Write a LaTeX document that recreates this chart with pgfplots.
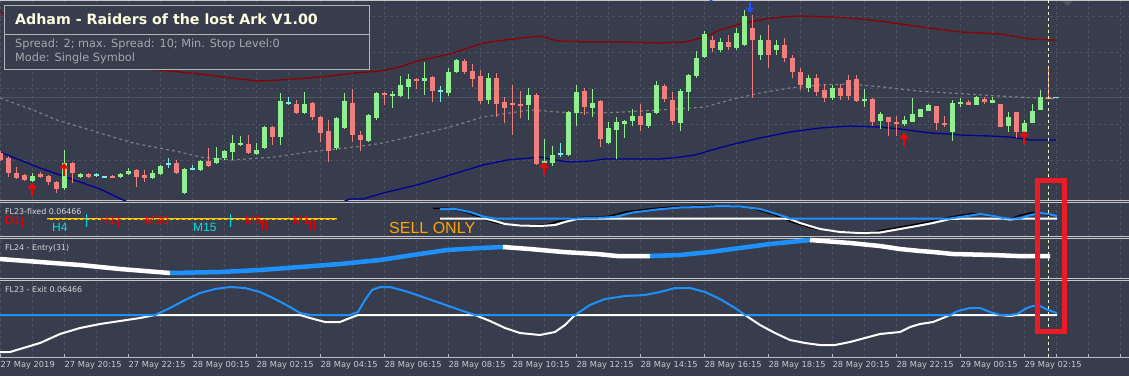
\documentclass[border=0pt]{standalone}
\usepackage{fontspec}
\setmainfont{DejaVu Sans}
\newfontfamily\arialf{Liberation Sans}
\usepackage{pgfplots}
\usepackage{pgfplotstable}
\pgfplotsset{compat=1.18}
\usetikzlibrary{arrows.meta}

\definecolor{bg}{RGB}{56,61,77}
\definecolor{gridc}{RGB}{76,82,99}
\definecolor{sepc}{RGB}{200,200,200}
\definecolor{axisc}{RGB}{185,188,195}
\definecolor{labelc}{RGB}{200,203,210}
\definecolor{cgreen}{RGB}{144,238,144}
\definecolor{cred}{RGB}{240,128,128}
\definecolor{ccyan}{RGB}{127,235,225}
\definecolor{bandred}{RGB}{139,0,0}
\definecolor{bandblue}{RGB}{0,0,150}
\definecolor{midgray}{RGB}{125,125,125}
\definecolor{bidc}{RGB}{78,83,98}
\definecolor{blu}{RGB}{30,144,255}
\definecolor{titlec}{RGB}{255,255,225}
\definecolor{smallc}{RGB}{165,168,175}
\definecolor{boxc}{RGB}{180,180,180}
\definecolor{plabel}{RGB}{215,215,220}
\definecolor{tfred}{RGB}{235,0,0}
\definecolor{tfcyan}{RGB}{0,225,225}
\definecolor{gold}{RGB}{255,204,0}
\definecolor{sellc}{RGB}{255,165,0}
\definecolor{rectred}{RGB}{237,28,36}
\definecolor{curc}{RGB}{255,255,200}
\definecolor{arrblue}{RGB}{30,80,255}

% candles: pixel rows (y grows downward); green: o=bottom, c=top
\pgfplotstableread{
i o h l c
0 153 151 161 160
1 158 156 177 173
2 173 167 179 178
3 175 174 181 180
4 181 173 182 176
5 174 172 178 177
6 176 175 185 182
7 182 181 193 189
8 188 150 190 163
9 163 162 183 173
10 177 173 178 174
11 174 173 178 177
12 175 173 177 175
13 177 176 178 177
14 176 175 178 177.5
15 177 173 178 173.5
16 174 168 175 171
17 170 169 187 177
18 175 170 182 178
19 178 170 179 173
20 174 165 175 165.5
21 164 158 168 164
22 163 160 174 173
23 193 168 194 169
24 169 165 170 169
25 170 160 171 161
26 161 148 167 166
27 163 147 164 158
28 158 150 160 151
29 152 135 160 143
30 145 136 146 143
31 144 135 154 153
32 154 143 155 150
33 148 126 149 127
34 127 126 145 137
35 137 93 145 101
36 103 97 105 103
37 104 100 114 113
38 113 92 114 104
39 103 102 120 117
40 117 116 142 133
41 131 120 162 151
42 148 117 150 118
43 128 93 129 101
44 103 89 142 135
45 135 131 151 140
46 141 114 142 115
47 118 92 120 93
48 93 92 105 95
49 96 91 108 94
50 96 76 97 85
51 87 74 99 79
52 79 78 89 81
53 81 62 95 78
54 77 76 102 91
55 91 86 102 91
56 93 68 96 72
57 72 59 73 60
58 61 59 74 72
59 71 64 87 79
60 76 70 104 101
61 100 73 104 78
62 78 73 117 104
63 102 97 123 108
64 103 85 135 105
65 104 91 118 106
66 105 88 120 95
67 95 93 165 164
68 163 139 165 161
69 163 146 166 155
70 154 143 157 154
71 155 111 156 112
72 113 85 126 92
73 91 88 115 107
74 108 89 117 103
75 101 100 147 139
76 143 122 144 128
77 130 117 159 122
78 124 120 138 121
79 121 109 126 116
80 116 104 131 125
81 126 113 128 113
82 113 81 114 85
83 86 84 102 99
84 100 92 125 121
85 123 89 131 91
86 92 74 111 75
87 76 51 78 58
88 57 31 58 34
89 40 36 52 48
90 50 38 52 42
91 42 35 50 47
92 48 28 50 33
93 45 10 46 16
94 28 15 98 40
95 55 35 60 40
96 40 25 68 55
97 50 40 55 45
98 45 38 62 58
99 58 55 78 72
100 72 68 90 85
101 88 75 92 78
102 78 74 96 92
103 90 84 102 98
104 98 85 100 88
105 88 84 100 96
106 80 75 100 96
107 79 75 102 101
108 101 89 107 99
109 99 98 126 122
110 121 112 129 114
111 117 117 136 122
112 122 116 136 124
113 124 116 126 120
114 122 98 122 114
115 117 109 117 109
116 111 104 111 105
117 106 106 130 123
118 123 116 127 125
119 132 100 141 103
120 104 98 107 102
121 102 100 105 105
122 105 96 105 97
123 99 97 104 102
124 103 97 103 100
125 104 104 127 127
126 126 112 132 117
127 112 112 138 132
128 132 120 133 123
129 123 104 123 111
130 110 90 110 97
131 97 67 99 99
}\candles

\pgfplotstableread{
x y
0 12
20 22
40 35
60 48
80 57
100 63
120 67
140 69
160 70
180 72
200 74
230 78
258 81
280 80
308 78
330 76
355 73
380 71
400 67
417 61
450 54
483 43
505 40
530 37
540 36
558 41
592 42
625 42
658 43
685 42
705 37
720 30
740 24
760 20
780 17
800 16
830 17
850 18
880 21
900 24
930 28
960 32
1000 34
1030 39
1056 40
}\upband

\pgfplotstableread{
x y
0 152
20 160
40 168
60 175
80 182
100 189
123 200
140 207
200 215
300 210
340 203
350 199
363 199
383 193
417 185
450 175
483 165
507 160
530 158
540 157
555 160
570 162
590 161
605 159
640 159
660 159
680 157
695 155
705 152
730 145
760 138
790 132
820 128
850 126
880 127
900 129
930 133
950 134
960 135
990 136
1010 137
1030 140
1056 140
}\lowband

\pgfplotstableread{
x y
0 98
33 110
57 120
67 123
100 133
133 143
180 152
200 157
232 160
275 157
308 152
355 147
383 143
417 135
450 127
483 117
530 110
558 112
592 113
625 112
658 110
692 108
705 107
730 100
760 93
790 88
820 85
850 84
883 87
917 91
950 93
983 95
1017 97
1057 99
}\midband

\pgfplotstableread{
x y
440 209
455 209
470 212
485 217
495 221
505 224
520 225.5
540 226
555 225
565 222
577 219
590 218
605 217.5
615 217
633 212.5
657 209.5
680 207.5
700 207
720 206
740 206.5
760 209
780 215
790 219
800 223
820 229
840 232
860 233
880 232.5
900 229
917 226
933 223
950 219
967 216
980 214
993 216
1003 218
1010 219.5
1020 218.5
1027 216
1040 213
1048 214
1057 216
}\ptwo

\pgfplotstableread{
x y
0 259
40 262
80 265
120 269
170 273
}\pthreeA
\pgfplotstableread{
x y
170 273
220 272
260 270
300 267
340 264
380 260
413 255
447 250
480 248
503 247
}\pthreeB
\pgfplotstableread{
x y
503 247
530 249
563 252
597 254
617 256
650 256
}\pthreeC
\pgfplotstableread{
x y
650 256
680 255
710 252
740 248
770 244
800 241
810 240
}\pthreeD
\pgfplotstableread{
x y
810 240
850 243
880 246
900 249
920 251
933 252
953 254
993 255
1017 256
1050 256
}\pthreeE

\pgfplotstableread{
x y
0 352
10 352
20 349
40 343
60 334
80 328
100 324
120 321
140 318
155 315
170 308
185 300
200 293
215 289
230 287
245 288
260 292
275 299
290 307
300 313
310 318
325 322
340 322
350 318
358 312
365 300
372 290
380 287
390 287
405 291
420 296
440 303
460 310
475 315
490 321
505 328
520 333
540 335
555 332
565 325
575 315
590 305
605 299
625 296
645 295
660 292
675 288
690 288
705 292
720 299
735 308
745 315
760 325
775 333
790 340
805 343
820 345
835 345
850 342
865 338
880 334
900 332
910 327
920 324
933 322
943 318
950 315
958 311
970 308
980 308
990 312
1000 315
1010 316
1017 314
1027 308
1033 306
1040 306
1048 310
1057 313
}\pfour

\begin{document}
\begin{tikzpicture}
\fill[bg] (0pt,0pt) rectangle (1129pt,376pt);

% ---------- background axis: grid, separators, time axis ----------
\begin{axis}[
  at={(0pt,376pt)}, anchor=north west, scale only axis,
  width=1129pt, height=357pt,
  xmin=0, xmax=1129, ymin=0, ymax=357,
  axis x line*=bottom, axis y line*=left,
  x axis line style={draw=axisc, line width=1pt, -},
  y axis line style={draw=none},
  xtick={0,64,...,1024},
  xticklabels={27 May 2019,27 May 20:15,27 May 22:15,28 May 00:15,28 May 02:15,28 May 04:15,28 May 06:15,28 May 08:15,28 May 10:15,28 May 12:15,28 May 14:15,28 May 16:15,28 May 18:15,28 May 20:15,28 May 22:15,29 May 00:15,29 May 02:15},
  minor x tick num=1,
  xmajorgrids, xminorgrids, ymajorgrids,
  grid style={gridc, dash pattern=on 3pt off 3pt, line width=0.8pt},
  major grid style={gridc, dash pattern=on 3pt off 3pt, line width=0.8pt},
  minor grid style={gridc, dash pattern=on 3pt off 3pt, line width=0.8pt},
  tick align=inside,
  x tick style={draw=axisc, line width=1pt},
  major tick length=3pt, minor tick length=0pt,
  xticklabel style={anchor=north west, inner sep=0pt, yshift=-4pt, xshift=0.5pt, text=labelc, font=\fontsize{8.3}{10}\selectfont},
  ytick={197,233,269,305,341}, yticklabels={},
  y tick style={draw=none},
  extra y ticks={157,155,121,119,79,77,356.5},
  extra y tick labels={},
  extra y tick style={grid=major, major grid style={sepc, solid, line width=1pt}, tick style={draw=none}},
  extra x ticks={1056,1088,1120},
  extra x tick labels={},
  extra x tick style={grid=major, tick style={draw=none}},
]
\addplot[draw=none] coordinates {(0,0)};
\end{axis}

% ---------- main price panel ----------
\begin{axis}[
  at={(0pt,376pt)}, anchor=north west, scale only axis,
  width=1129pt, height=200pt,
  xmin=0, xmax=1129, ymin=0, ymax=200, y dir=reverse,
  hide axis, clip=true,
]
\addplot[bidc, line width=1pt] coordinates {(0,97) (1129,97)};
\addplot[ccyan, line width=1pt] coordinates {(1053,97) (1059,97)};
\addplot[midgray, line width=1.2pt, dash pattern=on 3pt off 3pt] table {\midband};
\addplot[bandred, line width=1.3pt] table {\upband};
\addplot[bandblue, line width=1.3pt] table {\lowband};
% wicks
\addplot[draw=none, forget plot, error bars/.cd, y dir=both, y explicit, error mark=none,
  error bar style={draw=cgreen, line width=1pt, solid}]
  table[x expr=8*\thisrow{i}, y expr={(\thisrow{c}<\thisrow{o}) ? (\thisrow{h}+\thisrow{l})/2 : nan}, y error expr={(\thisrow{l}-\thisrow{h})/2}] {\candles};
\addplot[draw=none, forget plot, error bars/.cd, y dir=both, y explicit, error mark=none,
  error bar style={draw=cred, line width=1pt, solid}]
  table[x expr=8*\thisrow{i}, y expr={(\thisrow{c}>\thisrow{o}) ? (\thisrow{h}+\thisrow{l})/2 : nan}, y error expr={(\thisrow{l}-\thisrow{h})/2}] {\candles};
\addplot[draw=none, forget plot, error bars/.cd, y dir=both, y explicit, error mark=none,
  error bar style={draw=ccyan, line width=1pt, solid}]
  table[x expr=8*\thisrow{i}, y expr={(\thisrow{c}==\thisrow{o}) ? (\thisrow{h}+\thisrow{l})/2 : nan}, y error expr={(\thisrow{l}-\thisrow{h})/2}] {\candles};
% bodies
\addplot[draw=none, forget plot, error bars/.cd, y dir=both, y explicit, error mark=none,
  error bar style={draw=cgreen, line width=5pt, solid}]
  table[x expr=8*\thisrow{i}, y expr={(\thisrow{c}<\thisrow{o}) ? (\thisrow{o}+\thisrow{c})/2 : nan}, y error expr={max(abs(\thisrow{o}-\thisrow{c})/2,0.6)}] {\candles};
\addplot[draw=none, forget plot, error bars/.cd, y dir=both, y explicit, error mark=none,
  error bar style={draw=cred, line width=5pt, solid}]
  table[x expr=8*\thisrow{i}, y expr={(\thisrow{c}>\thisrow{o}) ? (\thisrow{o}+\thisrow{c})/2 : nan}, y error expr={max(abs(\thisrow{o}-\thisrow{c})/2,0.6)}] {\candles};
\addplot[draw=none, forget plot, error bars/.cd, y dir=both, y explicit, error mark=none,
  error bar style={draw=ccyan, line width=5pt, solid}]
  table[x expr=8*\thisrow{i}, y expr={(\thisrow{c}==\thisrow{o}) ? \thisrow{o} : nan}, y error expr={0.55}] {\candles};
% signal arrows
\addplot[red, line width=2.6pt, -{Triangle[width=9pt,length=5.5pt]}, quiver={u=0, v=-13}]
  coordinates {(32,196) (64,176) (544,175) (904,146) (1024,144)};
\addplot[arrblue, line width=2.6pt, -{Triangle[width=9pt,length=5.5pt]}, quiver={u=0, v=11}]
  coordinates {(750,2) (711,-9)};
\end{axis}

% ---------- overlay: sub-panels, texts, markers ----------
\begin{axis}[
  at={(0pt,376pt)}, anchor=north west, scale only axis,
  width=1129pt, height=376pt,
  xmin=0, xmax=1129, ymin=0, ymax=376, y dir=reverse,
  hide axis, clip=false,
]
% title box
\filldraw[fill=bg, draw=boxc, line width=1pt] (axis cs:4,5.5) rectangle (axis cs:369.5,69);
\draw[boxc, line width=1pt] (axis cs:4,34) -- (axis cs:369.5,34);
\node[anchor=base west, inner sep=0pt, text=titlec, font=\fontsize{14.2}{16}\selectfont\bfseries] at (axis cs:15,24.5) {Adham - Raiders of the lost Ark V1.00};
\node[anchor=base west, inner sep=0pt, text=smallc, font=\fontsize{11.3}{13}\selectfont] at (axis cs:15,47.5) {Spread: 2; max. Spread: 10; Min. Stop Level:0};
\node[anchor=base west, inner sep=0pt, text=smallc, font=\fontsize{11.3}{13}\selectfont] at (axis cs:15,61.5) {Mode: Single Symbol};

% panel 2 : FL23-fixed
\addplot[black, line width=1.4pt] table[x expr=\thisrow{x}-7, y expr=\thisrow{y}-0.6] {\ptwo};
\addplot[white, line width=2pt, line join=round, y filter/.expression={max(y,218.5)}] table {\ptwo};
\addplot[blu, line width=2pt, line join=round, y filter/.expression={min(y,218.5)}] table {\ptwo};
\addplot[gold, line width=2.6pt] coordinates {(47,219) (337,219)};
\addplot[black!60, line width=0.8pt, dash pattern=on 3pt off 3pt] coordinates {(47,219) (337,219)};
\addplot[tfred, line width=1pt] coordinates {(22,216.5) (22,226.5)};
\addplot[tfred, line width=1pt] coordinates {(118,216.5) (118,226.5)};
\addplot[tfred, line width=1pt] coordinates {(167,220) (167,230)};
\addplot[tfred, line width=1pt] coordinates {(171.5,220) (171.5,230)};
\addplot[tfred, line width=1pt] coordinates {(262,220) (262,230)};
\addplot[tfred, line width=1pt] coordinates {(266.5,220) (266.5,230)};
\addplot[tfred, line width=1pt] coordinates {(310,220) (310,230)};
\addplot[tfred, line width=1pt] coordinates {(314.5,220) (314.5,230)};
\addplot[tfcyan, line width=1pt] coordinates {(86,214) (86,227)};
\addplot[tfcyan, line width=1pt] coordinates {(230,214) (230,227)};
\node[anchor=base west, inner sep=0pt, text=plabel, font=\fontsize{7.9}{9}\selectfont] at (axis cs:5,214) {FL23-fixed 0.06466};
\node[anchor=base west, inner sep=0pt, text=tfred, font=\arialf\fontsize{12}{14}\selectfont] at (axis cs:5,224.5) {D1};
\node[anchor=base west, inner sep=0pt, text=tfcyan, font=\arialf\fontsize{12}{14}\selectfont] at (axis cs:52,231.5) {H4};
\node[anchor=base west, inner sep=0pt, text=tfred, font=\arialf\fontsize{12}{14}\selectfont] at (axis cs:100,224.5) {H1};
\node[anchor=base west, inner sep=0pt, text=tfred, font=\arialf\fontsize{12}{14}\selectfont] at (axis cs:145,224.5) {M30};
\node[anchor=base west, inner sep=0pt, text=tfcyan, font=\arialf\fontsize{12}{14}\selectfont] at (axis cs:193,231.5) {M15};
\node[anchor=base west, inner sep=0pt, text=tfred, font=\arialf\fontsize{12}{14}\selectfont] at (axis cs:245,224.5) {M5};
\node[anchor=base west, inner sep=0pt, text=tfred, font=\arialf\fontsize{12}{14}\selectfont] at (axis cs:293,224.5) {M1};
\node[anchor=base west, inner sep=0pt, text=sellc, font=\arialf\fontsize{16}{18}\selectfont] at (axis cs:389,233.3) {SELL ONLY};

% panel 3 : FL24 - Entry(31)
\addplot[white, line width=4.5pt] table {\pthreeA};
\addplot[blu, line width=4.5pt] table {\pthreeB};
\addplot[white, line width=4.5pt] table {\pthreeC};
\addplot[blu, line width=4.5pt] table {\pthreeD};
\addplot[white, line width=4.5pt] table {\pthreeE};
\node[anchor=base west, inner sep=0pt, text=plabel, font=\fontsize{7.9}{9}\selectfont] at (axis cs:5,250) {FL24 - Entry(31)};

% panel 4 : FL23 - Exit
\addplot[white, line width=2pt, line join=round, y filter/.expression={max(y,315)}] table {\pfour};
\addplot[blu, line width=2pt, line join=round, y filter/.expression={min(y,315)}] table {\pfour};
\node[anchor=base west, inner sep=0pt, text=plabel, font=\fontsize{7.9}{9}\selectfont] at (axis cs:5,292) {FL23 - Exit 0.06466};

% current bar line and highlight box
\addplot[curc, line width=1pt, dash pattern=on 3pt off 3pt] coordinates {(1048,0) (1048,357)};
\draw[rectred, line width=5pt] (axis cs:1037.5,180.5) rectangle (axis cs:1064.5,331.5);
\fill[bidc] (axis cs:1062,1) -- (axis cs:1073,1) -- (axis cs:1067.5,6) -- cycle;
\end{axis}
\pgfresetboundingbox
\path[use as bounding box] (0pt,0pt) rectangle (1129pt,376pt);
\end{tikzpicture}
\end{document}
